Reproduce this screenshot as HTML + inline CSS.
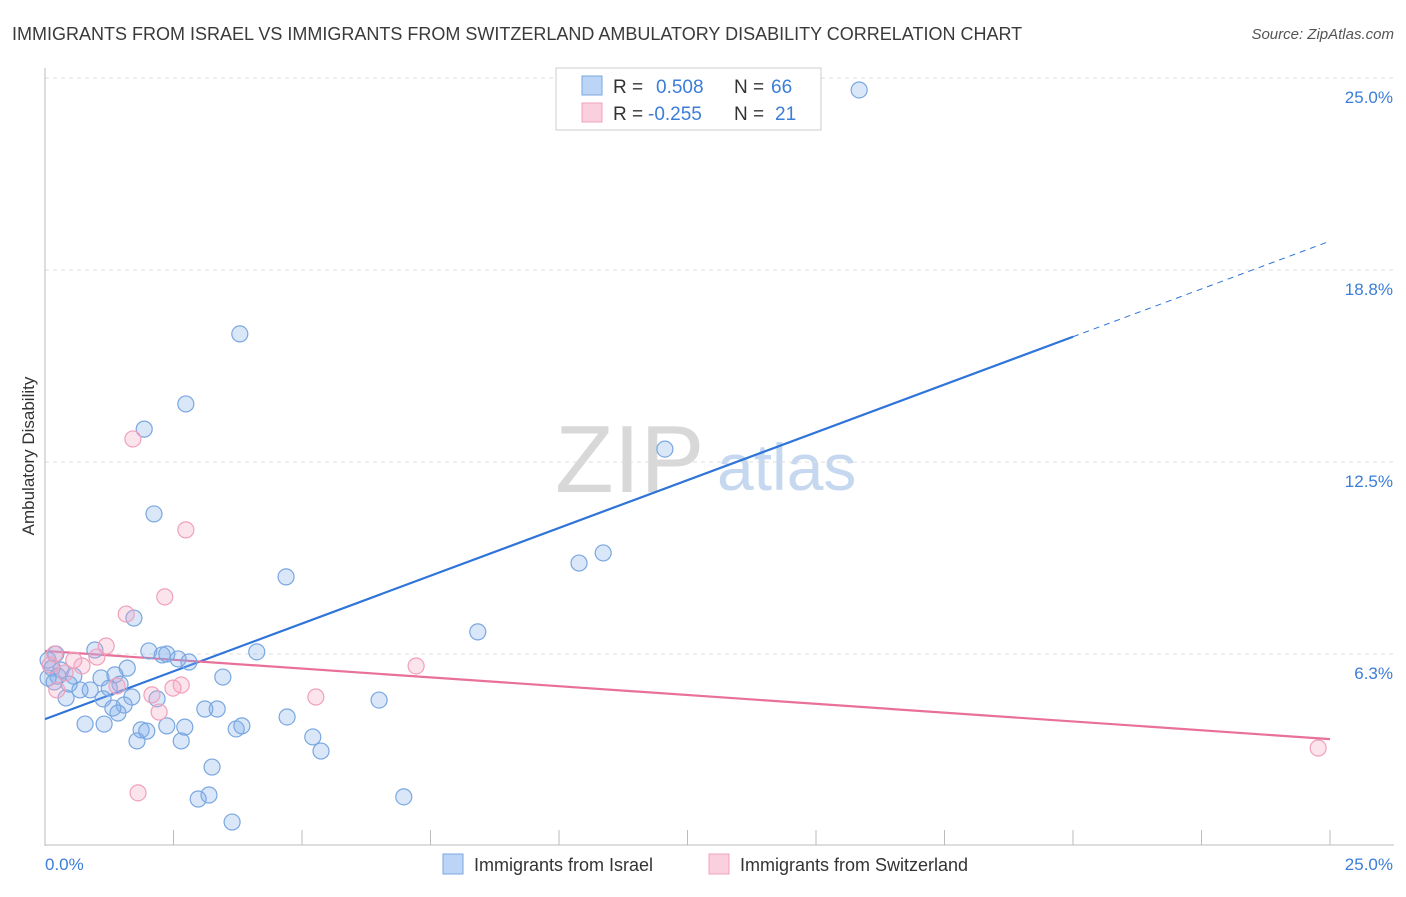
<!DOCTYPE html>
<html><head><meta charset="utf-8"><style>
body{margin:0;background:#fff;font-family:"Liberation Sans",sans-serif;}
svg text{font-family:"Liberation Sans",sans-serif;}
</style></head><body>
<svg id="chart" width="1406" height="892" viewBox="0 0 1406 892" xmlns="http://www.w3.org/2000/svg">
<text x="12" y="40" font-size="18" fill="#3a3a3a">IMMIGRANTS FROM ISRAEL VS IMMIGRANTS FROM SWITZERLAND AMBULATORY DISABILITY CORRELATION CHART</text>
<text x="1394" y="39" font-size="15" fill="#555" font-style="italic" text-anchor="end">Source: ZipAtlas.com</text>
<g>
<text x="555" y="492" font-size="96" fill="#d8d8d8" font-family="Liberation Serif, serif">ZIP</text>
<text x="717" y="490" font-size="66" fill="#c5d8f0">atlas</text>
</g>
<g id="grid"></g>
<g id="axes"></g>
<text transform="translate(34,456) rotate(-90)" font-size="17" fill="#333" text-anchor="middle">Ambulatory Disability</text>
<g id="trend"></g>
<g id="pts"></g>
<g>
<rect x="556" y="68" width="265" height="62" fill="#fff" stroke="#ccc"/>
<rect x="582" y="76" width="20" height="19" fill="#bcd4f5" stroke="#7aa7e0"/>
<rect x="582" y="103" width="20" height="19" fill="#fbd0de" stroke="#f0a0bc"/>
<text x="613" y="93" font-size="19" fill="#333">R = </text><text x="656" y="93" font-size="19" fill="#3b7dd8">0.508</text>
<text x="734" y="93" font-size="19" fill="#333">N = </text><text x="771" y="93" font-size="19" fill="#3b7dd8">66</text>
<text x="613" y="120" font-size="19" fill="#333">R = </text><text x="648" y="120" font-size="19" fill="#3b7dd8">-0.255</text>
<text x="734" y="120" font-size="19" fill="#333">N = </text><text x="775" y="120" font-size="19" fill="#3b7dd8">21</text>
</g>
<g>
<rect x="443" y="854" width="20" height="20" fill="#bcd4f5" stroke="#7aa7e0"/>
<text x="474" y="871" font-size="18" fill="#333">Immigrants from Israel</text>
<rect x="709" y="854" width="20" height="20" fill="#fbd0de" stroke="#f0a0bc"/>
<text x="740" y="871" font-size="18" fill="#333">Immigrants from Switzerland</text>
</g>
</svg>
<script>
const yTicks=[6.25,12.5,18.75,25];
const yTickLabels=["6.3%","12.5%","18.8%","25.0%"];
const xTickLabels=["0.0%","25.0%"];
const israelX=[15.84,3.79,2.74,1.93,12.06,2.12,10.86,10.39,4.69,1.73,8.42,4.12,2.02,2.28,2.37,2.59,2.80,0.97,0.21,0.06,0.14,0.31,1.60,0.56,1.09,1.36,3.46,0.18,0.47,0.88,1.46,0.68,1.25,1.69,1.13,0.41,2.18,6.50,1.54,1.32,3.11,3.35,1.42,4.71,0.78,1.15,2.37,2.72,1.87,1.98,3.72,3.83,5.21,1.79,2.65,5.37,3.25,3.19,2.98,6.98,3.64,0.25,0.06];
const israelY=[24.61,16.67,14.39,13.57,12.92,10.81,9.54,9.21,8.76,7.42,6.97,6.32,6.35,6.22,6.25,6.09,5.99,6.38,6.25,6.05,5.79,5.73,5.79,5.53,5.47,5.57,5.50,5.34,5.27,5.08,5.27,5.08,5.14,4.85,4.79,4.82,4.79,4.75,4.59,4.49,4.46,4.46,4.33,4.20,3.97,3.97,3.91,3.87,3.78,3.74,3.81,3.91,3.55,3.42,3.42,3.09,2.57,1.66,1.53,1.60,0.78,5.53,5.47];
const swissX=[1.71,2.74,2.33,1.58,1.19,7.22,1.01,0.56,0.72,0.19,0.10,0.39,1.40,2.65,2.49,2.08,5.27,2.22,0.23,1.81,24.77];
const swissY=[13.25,10.29,8.11,7.55,6.51,5.86,6.15,6.05,5.86,6.25,5.89,5.63,5.21,5.24,5.14,4.92,4.85,4.36,5.08,1.73,3.19];
const israelTrend=[4.13,19.69];
const swissTrend=[6.35,3.48];
const israelSolidEnd=20.0;
const NS="http://www.w3.org/2000/svg";
const X0=45,X1=1330,Y0=846,YTOP=78;
const xs=v=>X0+(X1-X0)*v/25;
const ys=v=>Y0-(Y0-YTOP)*v/25;
function mk(tag,attrs,parent){const e=document.createElementNS(NS,tag);for(const k in attrs)e.setAttribute(k,attrs[k]);parent.appendChild(e);return e;}
const grid=document.getElementById('grid'),axes=document.getElementById('axes');
yTicks.forEach((t,i)=>{
 const l=mk('line',{x1:X0,x2:1394,y1:ys(t),y2:ys(t),stroke:'#ddd','stroke-dasharray':'4,4'},grid);
 
 
 const tx=mk('text',{x:1393,y:ys(t)+25,'font-size':17,fill:'#3b7dd8','text-anchor':'end'},axes);
 tx.textContent=yTickLabels[i];
 
 
});
mk('line',{x1:X0,x2:X0,y1:68,y2:846,stroke:'#bbb'},axes);
mk('line',{x1:X0,x2:1394,y1:845,y2:845,stroke:'#bbb'},axes);
for(let i=0;i<=10;i++){const x=xs(i*2.5);const tk=mk('line',{x1:x,x2:x,y1:830,y2:845,stroke:'#bbb'},axes);
 
 }
const xl0=mk('text',{x:45,y:870,'font-size':17,fill:'#3b7dd8'},axes);xl0.textContent=xTickLabels[0];


const xl1=mk('text',{x:1393,y:870,'font-size':17,fill:'#3b7dd8','text-anchor':'end'},axes);xl1.textContent=xTickLabels[1];


const pts=document.getElementById('pts');
israelX.forEach((x,i)=>{const c=mk('circle',{cx:xs(x),cy:ys(israelY[i]),r:8,fill:'rgba(130,175,235,0.3)',stroke:'#7aa7e0','stroke-width':1.2},pts);
 
 });
swissX.forEach((x,i)=>{const c=mk('circle',{cx:xs(x),cy:ys(swissY[i]),r:8,fill:'rgba(245,165,195,0.3)',stroke:'#f0a0bc','stroke-width':1.2},pts);
 
 });
const tr=document.getElementById('trend');
const iy=v=>israelTrend[0]+(israelTrend[1]-israelTrend[0])*v/25;
const a=mk('line',{x1:xs(0),y1:ys(iy(0)),x2:xs(israelSolidEnd),y2:ys(iy(israelSolidEnd)),stroke:'#2f74d8','stroke-width':2.2},tr);


const b=mk('line',{x1:xs(israelSolidEnd),y1:ys(iy(israelSolidEnd)),x2:xs(25),y2:ys(iy(25)),stroke:'#2f74d8','stroke-width':1,'stroke-dasharray':'6,5'},tr);


const c=mk('line',{x1:xs(0),y1:ys(swissTrend[0]),x2:xs(25),y2:ys(swissTrend[1]),stroke:'#e8709a','stroke-width':2.2},tr);


</script>
</body></html>
